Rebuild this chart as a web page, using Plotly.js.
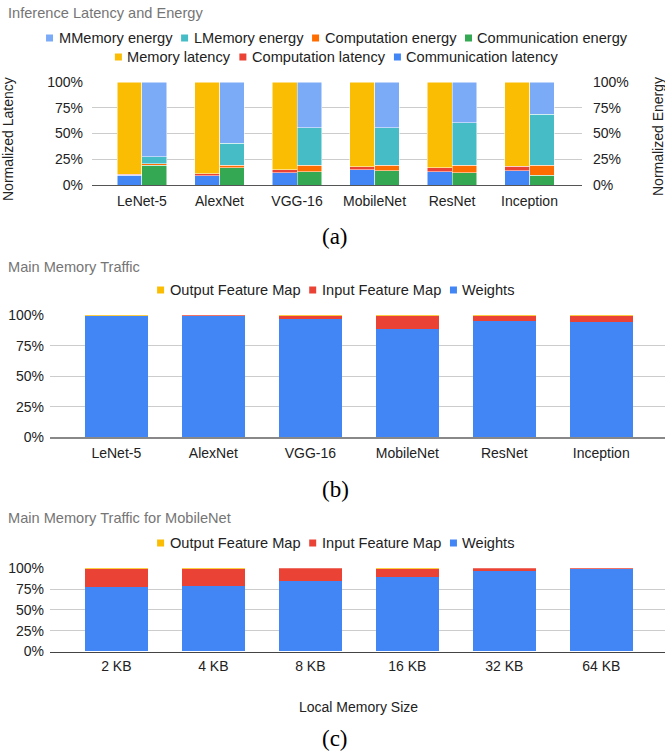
<!DOCTYPE html>
<html>
<head>
<meta charset="utf-8">
<script src="https://cdn.plot.ly/plotly-3.0.1.min.js"></script>
<style>html,body{margin:0;padding:0;background:#fff}#chart{width:665px;height:752px}</style>
</head>
<body>
<div id="chart"></div>
<script>
// ---------- data ----------
const models = ['LeNet-5', 'AlexNet', 'VGG-16', 'MobileNet', 'ResNet', 'Inception'];
const commLatency = [9.4, 9.0, 12.0, 14.9, 12.9, 13.6];
const compLatency = [1.0, 1.7, 2.6, 2.6, 3.9, 4.8];
const memLatency = [89.6, 89.3, 85.4, 82.5, 83.2, 81.6];
const commEnergy = [19.4, 16.8, 13.0, 13.6, 11.7, 9.7];
const compEnergy = [1.0, 2.6, 6.4, 5.8, 7.7, 9.7];
const lmemEnergy = [6.8, 21.1, 36.3, 36.3, 40.8, 49.2];
const mmemEnergy = [72.8, 59.5, 44.3, 44.3, 39.8, 31.4];

const trafficWeights = [99.4, 99.7, 97.0, 88.8, 95.4, 94.8];
const trafficInput = [0.1, 0.3, 2.7, 11.0, 4.4, 5.0];
const trafficOutput = [0.5, 0.0, 0.3, 0.2, 0.2, 0.2];

const memSizes = ['2 KB', '4 KB', '8 KB', '16 KB', '32 KB', '64 KB'];
const mobileWeights = [77.9, 78.7, 85.1, 90.0, 97.2, 99.6];
const mobileInput = [21.3, 20.5, 14.7, 9.6, 2.8, 0.4];
const mobileOutput = [0.8, 0.8, 0.2, 0.4, 0.0, 0.0];

const pctTicks = [0, 25, 50, 75, 100];
const pctLabels = ['0%', '25%', '50%', '75%', '100%'];

// ---------- style ----------
const C = {
  blue: '#4285F4', red: '#EA4335', yellow: '#FBBC04', green: '#34A853',
  orange: '#FF6D01', teal: '#46BDC6', lblue: '#7BAAF7'
};
const W = 665, H = 752;
const FONT = '"Liberation Sans", Arial, sans-serif';
const px = x => x / W;
const py = y => 1 - y / H;
const dom = (top, bottom) => [py(bottom), py(top)];

function bar(x, y, name, color, xa, ya, extra) {
  return Object.assign({
    type: 'bar', x: x, y: y, name: name, xaxis: xa, yaxis: ya,
    marker: { color: color, line: { width: 0 } },
    showlegend: false, hoverinfo: 'skip'
  }, extra || {});
}

const traces = [];
function addA(y, name, color, ya, off) {
  traces.push(bar(models, y, name, color, 'x', ya,
    { offset: off, width: 0.32, marker: { color: color, line: { color: '#fff', width: 0.5 } } }));
}
addA(commLatency, 'Communication latency', C.blue, 'y', -0.32);
addA(compLatency, 'Computation latency', C.red, 'y', -0.32);
addA(memLatency, 'Memory latency', C.yellow, 'y', -0.32);
addA(commEnergy, 'Communication energy', C.green, 'y2', 0);
addA(compEnergy, 'Computation energy', C.orange, 'y2', 0);
addA(lmemEnergy, 'LMemory energy', C.teal, 'y2', 0);
addA(mmemEnergy, 'MMemory energy', C.lblue, 'y2', 0);

traces.push(bar(models, trafficWeights, 'Weights', C.blue, 'x2', 'y3', { width: 0.646 }));
traces.push(bar(models, trafficInput, 'Input Feature Map', C.red, 'x2', 'y3', { width: 0.646 }));
traces.push(bar(models, trafficOutput, 'Output Feature Map', C.yellow, 'x2', 'y3', { width: 0.646 }));

traces.push(bar(memSizes, mobileWeights, 'Weights', C.blue, 'x3', 'y4', { width: 0.646 }));
traces.push(bar(memSizes, mobileInput, 'Input Feature Map', C.red, 'x3', 'y4', { width: 0.646 }));
traces.push(bar(memSizes, mobileOutput, 'Output Feature Map', C.yellow, 'x3', 'y4', { width: 0.646 }));

// ---------- axes ----------
const tickFont = { family: FONT, size: 14, color: '#222' };
function xAxis(domain, anchor, range, lineColor, lineWidth, tl) {
  return {
    domain: domain, anchor: anchor, type: 'category', range: range,
    showgrid: false, zeroline: false, showline: true, linecolor: lineColor, linewidth: lineWidth,
    ticks: 'outside', ticklen: tl, tickcolor: 'rgba(0,0,0,0)', tickfont: tickFont, fixedrange: true
  };
}
function yAxis(domain, anchor, extra) {
  return Object.assign({
    domain: domain, anchor: anchor, range: [0, 100], tickmode: 'array',
    tickvals: pctTicks, ticktext: pctLabels, showgrid: true, gridcolor: '#cccccc', gridwidth: 1,
    zeroline: false, showline: false, ticks: '', tickfont: tickFont, fixedrange: true
  }, extra || {});
}

const layout = {
  width: W, height: H, margin: { l: 0, r: 0, t: 0, b: 0 },
  paper_bgcolor: '#fff', plot_bgcolor: '#fff', barmode: 'stack', bargap: 0,
  font: { family: FONT, color: '#222' },
  showlegend: false,
  xaxis: xAxis([px(92), px(582)], 'y', [-0.645, 5.677], '#555', 1, 3),
  yaxis: yAxis(dom(82, 185), 'x', { ticklabelstandoff: 8 }),
  yaxis2: yAxis(dom(82, 185), 'x', { overlaying: 'y', side: 'right', showgrid: false, ticklabelstandoff: 10 }),
  xaxis2: xAxis([px(50), 1], 'y3', [-0.684, 5.657], '#888', 1.5, 2),
  yaxis3: yAxis(dom(315.3, 437.3), 'x2', { ticklabelstandoff: 5 }),
  xaxis3: xAxis([px(50), 1], 'y4', [-0.684, 5.657], '#444', 1, 2),
  yaxis4: yAxis(dom(568.3, 651.5), 'x3', { ticklabelstandoff: 5 }),
  annotations: [], shapes: []
};

// ---------- titles / captions ----------
function note(text, x, y, opts) {
  layout.annotations.push(Object.assign({
    text: text, x: px(x), y: py(y), xref: 'paper', yref: 'paper', showarrow: false,
    xanchor: 'center', yanchor: 'middle', borderpad: 0, borderwidth: 0,
    font: { family: FONT, size: 14, color: '#222' }
  }, opts || {}));
}
const titleFont = { family: FONT, size: 14.6, color: '#757575' };
note('Inference Latency and Energy', 7.6, 13, { xanchor: 'left', font: titleFont });
note('Main Memory Traffic', 7.6, 266.7, { xanchor: 'left', font: titleFont });
note('Main Memory Traffic for MobileNet', 7.6, 518, { xanchor: 'left', font: titleFont });
note('Normalized Latency', 8, 139, { textangle: -90 });
note('Normalized Energy', 658, 137, { textangle: -90 });
note('Local Memory Size', 358, 707);
const capFont = { family: '"Liberation Serif", "Times New Roman", serif', size: 23, color: '#000' };
note('(a)', 335, 237, { font: capFont });
note('(b)', 335, 489, { font: capFont });
note('(c)', 335, 738, { font: capFont });

// ---------- legends ----------
const legFontSize = 14.6;
const ctx = document.createElement('canvas').getContext('2d');
ctx.font = legFontSize + 'px "Liberation Sans"';
function legendRow(items, cy, cx) {
  const sq = 7, gapIn = 5.5, gapOut = 9;
  const widths = items.map(it => ctx.measureText(it[0]).width);
  let total = widths.reduce((a, b) => a + b, 0) + items.length * (sq + gapIn) + (items.length - 1) * gapOut;
  let x = cx - total / 2;
  items.forEach((it, i) => {
    layout.shapes.push({
      type: 'rect', xref: 'paper', yref: 'paper', x0: px(x), x1: px(x + sq),
      y0: py(cy + sq / 2), y1: py(cy - sq / 2), fillcolor: it[1], line: { width: 0 }
    });
    note(it[0], x + sq + gapIn, cy, { xanchor: 'left', font: { family: FONT, size: legFontSize, color: '#222' } });
    x += sq + gapIn + widths[i] + gapOut;
  });
}
legendRow([['MMemory energy', C.lblue], ['LMemory energy', C.teal], ['Computation energy', C.orange], ['Communication energy', C.green]], 38, 336.8);
legendRow([['Memory latency', C.yellow], ['Computation latency', C.red], ['Communication latency', C.blue]], 57, 336.5);
const memLegend = [['Output Feature Map', C.yellow], ['Input Feature Map', C.red], ['Weights', C.blue]];
legendRow(memLegend, 290, 336);
legendRow(memLegend, 543, 336);

Plotly.newPlot('chart', traces, layout, { staticPlot: true, displayModeBar: false });
</script>
</body>
</html>
